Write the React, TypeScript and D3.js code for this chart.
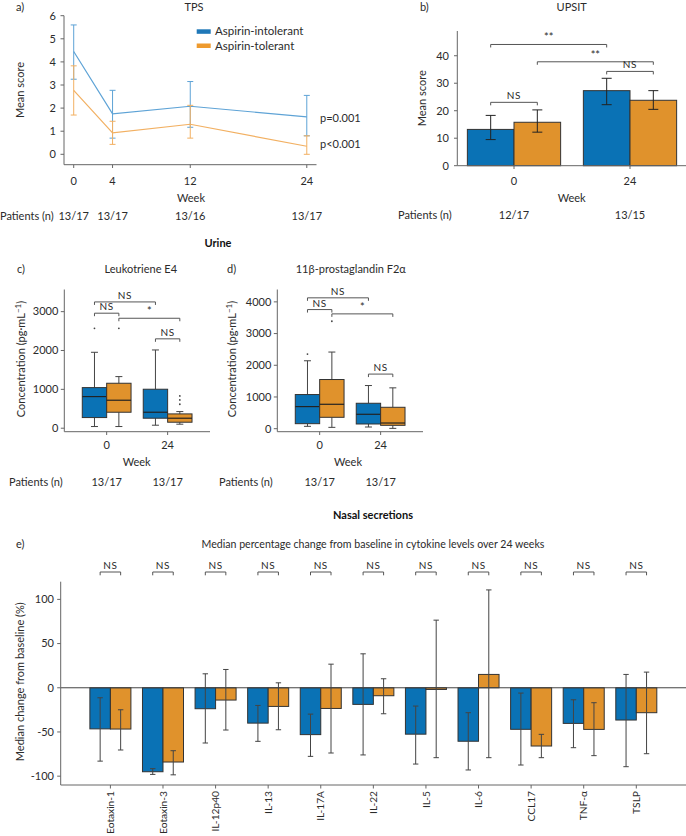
import React from "react";
import * as d3 from "d3";

// ---------- data ----------
const weeksA = [0, 4, 12, 24];
const tpsIntMean = [4.45, 1.75, 2.08, 1.62];
const tpsIntLo = [3.25, 0.7, 1.17, 0.8];
const tpsIntHi = [5.6, 2.77, 3.15, 2.55];
const tpsTolMean = [2.77, 0.93, 1.3, 0.35];
const tpsTolLo = [1.7, 0.43, 0.7, 0.0];
const tpsTolHi = [3.83, 1.43, 2.12, 0.8];
const patientsA = ["13/17", "13/17", "13/16", "13/17"];
const tpsTicks = [0, 1, 2, 3, 4, 5, 6];

const weeksB = ["0", "24"];
const upsitIntMean = [13.2, 27.3];
const upsitIntLo = [9.5, 22.2];
const upsitIntHi = [18.3, 31.8];
const upsitTolMean = [15.8, 23.8];
const upsitTolLo = [12.2, 20.5];
const upsitTolHi = [20.3, 27.3];
const patientsB = ["12/17", "13/15"];
const upsitTicks = [0, 10, 20, 30, 40];

// box stats: [low whisker, Q1, median, Q3, high whisker]
const lte4Int = [[43, 274, 814, 1045, 1954], [77, 257, 411, 1003, 2014]];
const lte4Tol = [[43, 411, 720, 1157, 1328], [103, 154, 257, 368, 428]];
const lte4IntOut = [[2570], []];
const lte4TolOut = [[2570], [831, 728, 617]];
const lte4Ticks = [0, 1000, 2000, 3000];

const pgfInt = [[74, 158, 697, 1077, 2142], [53, 148, 454, 802, 1361]];
const pgfTol = [[42, 359, 770, 1551, 2417], [10, 106, 179, 675, 1288]];
const pgfIntOut = [[2353], []];
const pgfTolOut = [[3388], []];
const pgfTicks = [0, 1000, 2000, 3000, 4000];
const patientsCD = ["13/17", "13/17"];

const cytokines = ["Eotaxin-1", "Eotaxin-3", "IL-12p40", "IL-13", "IL-17A", "IL-22", "IL-5", "IL-6", "CCL17", "TNF-α", "TSLP"];
const cytIntMed = [-46.5, -95, -23.7, -40, -53, -18.8, -52.5, -60.5, -47, -40.3, -36.5];
const cytIntLo = [-83, -98, -62.5, -60.6, -77.6, -76, -86.3, -93, -87.4, -67.8, -89.3];
const cytIntHi = [-11.3, -91.5, 15.8, -20, -29.8, 38.4, -20.7, -28.2, -6, -13.6, 15.1];
const cytTolMed = [-46.7, -84, -13.9, -21.1, -23.4, -9, -1.9, 15.1, -65.9, -47.1, -28.2];
const cytTolLo = [-70.4, -98.5, -47.8, -47.5, -73.8, -29.4, -79.1, -79.1, -79.1, -76.8, -74.6];
const cytTolHi = [-24.9, -71.2, 20.7, 5.6, 26.7, 10.2, 76.5, 110.7, -52.7, -16.9, 17.7];
const cytTicks = [-100, -50, 0, 50, 100];

// ---------- style ----------
const FONT = "Lato, 'Source Sans Pro', sans-serif";
const TXT = "#2b2b2b";
const AX = "#666";
const BLUE = "#0a72b5";
const ORANGE = "#e0922c";
const BLUE_L = "#5ea3d6";
const ORANGE_L = "#f2b062";
const FS = 11;

const Bracket = ({ x1, x2, y, label }: any) => {
  const leg = 3;
  const d = `M${x1},${y + leg}V${y}H${x2}V${y + leg}`;
  return (
    <g>
      <path d={d} fill="none" stroke="#555" strokeWidth={1} />
      <text x={(x1 + x2) / 2} y={y - 3} textAnchor="middle" fontSize={label === "NS" ? 10 : 11} fill={TXT} letterSpacing={label === "NS" ? 0.6 : 0}>
        {label}
      </text>
    </g>
  );
};

function PanelA() {
  const x = d3.scaleLinear().domain([-1, 25]).range([64, 316.5]);
  const y = d3.scaleLinear().domain([-0.45, 6]).range([164.7, 15.7]);
  const line = d3.line<number>().x((_, i) => x(weeksA[i])).y((v) => y(v));
  const series = [
    { mean: tpsIntMean, lo: tpsIntLo, hi: tpsIntHi, c: BLUE_L },
    { mean: tpsTolMean, lo: tpsTolLo, hi: tpsTolHi, c: ORANGE_L },
  ];
  return (
    <g>
      <text x={16} y={11} fontSize={FS} fill={TXT}>a)</text>
      <text x={194} y={11} fontSize={FS} fill={TXT} textAnchor="middle">TPS</text>
      <line x1={64} x2={64} y1={y(6)} y2={164.7} stroke={AX} />
      <line x1={64} x2={316.5} y1={164.7} y2={164.7} stroke={AX} />
      {tpsTicks.map((t) => (
        <g key={t}>
          <line x1={60.5} x2={64} y1={y(t)} y2={y(t)} stroke={AX} />
          <text x={56} y={y(t)} dy="0.35em" fontSize={FS} fill={TXT} textAnchor="end">{t}</text>
        </g>
      ))}
      {weeksA.map((w) => (
        <g key={w}>
          <line x1={x(w)} x2={x(w)} y1={164.7} y2={168} stroke={AX} />
          <text x={x(w)} y={181.5} dy="0.35em" fontSize={FS} fill={TXT} textAnchor="middle">{w}</text>
        </g>
      ))}
      <text transform="translate(20,90) rotate(-90)" fontSize={FS} fill={TXT} textAnchor="middle" dy="0.35em">Mean score</text>
      <text x={191} y={198} dy="0.35em" fontSize={FS} fill={TXT} textAnchor="middle">Week</text>
      <text x={0} y={215.7} dy="0.35em" fontSize={FS} fill={TXT}>Patients (n)</text>
      {patientsA.map((p, i) => (
        <text key={i} x={x(weeksA[i])} y={215.7} dy="0.35em" fontSize={FS} fill={TXT} textAnchor="middle">{p}</text>
      ))}
      {series.map((s, k) => (
        <g key={k}>
          {weeksA.map((w, i) => (
            <g key={i} stroke={s.c} strokeWidth={1}>
              <line x1={x(w)} x2={x(w)} y1={y(s.lo[i])} y2={y(s.hi[i])} />
              <line x1={x(w) - 3} x2={x(w) + 3} y1={y(s.lo[i])} y2={y(s.lo[i])} />
              <line x1={x(w) - 3} x2={x(w) + 3} y1={y(s.hi[i])} y2={y(s.hi[i])} />
            </g>
          ))}
          <path d={line(s.mean) || ""} fill="none" stroke={s.c} strokeWidth={1.2} />
        </g>
      ))}
      <rect x={196.7} y={29.3} width={14} height={4.5} fill="#1f78b8" />
      <text x={215} y={31.3} dy="0.35em" fontSize={11.5} fill={TXT}>Aspirin-intolerant</text>
      <rect x={196.7} y={43.5} width={14} height={4.5} fill="#ee9a2e" />
      <text x={215} y={45.7} dy="0.35em" fontSize={11.5} fill={TXT}>Aspirin-tolerant</text>
      <text x={320} y={118.3} dy="0.35em" fontSize={FS} fill={TXT}>p=0.001</text>
      <text x={320} y={144} dy="0.35em" fontSize={FS} fill={TXT}>p&lt;0.001</text>
    </g>
  );
}

function PanelB() {
  const x = d3.scaleBand().domain(weeksB).range([456, 688]).paddingInner(0).paddingOuter(0);
  const y = d3.scaleLinear().domain([0, 49]).range([165.7, 31]);
  const bw = x.step() * 0.402;
  const cx = (w: string) => (x(w) as number) + x.bandwidth() / 2;
  const series = [
    { mean: upsitIntMean, lo: upsitIntLo, hi: upsitIntHi, c: BLUE, off: -1 },
    { mean: upsitTolMean, lo: upsitTolLo, hi: upsitTolHi, c: ORANGE, off: 0 },
  ];
  const b0 = (i: number) => cx(weeksB[i]) - bw / 2;
  const b1 = (i: number) => cx(weeksB[i]) + bw / 2;
  return (
    <g>
      <text x={420} y={11} fontSize={FS} fill={TXT}>b)</text>
      <text x={571.7} y={11} fontSize={FS} fill={TXT} textAnchor="middle">UPSIT</text>
      {series.map((s, k) =>
        weeksB.map((w, i) => {
          const x0 = cx(w) + s.off * bw;
          const mid = x0 + bw / 2;
          return (
            <g key={k + "-" + i}>
              <rect x={x0} y={y(s.mean[i])} width={bw} height={y(0) - y(s.mean[i])} fill={s.c} stroke="#333" strokeWidth={1} />
              <g stroke="#222" strokeWidth={1}>
                <line x1={mid} x2={mid} y1={y(s.lo[i])} y2={y(s.hi[i])} />
                <line x1={mid - 5} x2={mid + 5} y1={y(s.lo[i])} y2={y(s.lo[i])} />
                <line x1={mid - 5} x2={mid + 5} y1={y(s.hi[i])} y2={y(s.hi[i])} />
              </g>
            </g>
          );
        })
      )}
      <line x1={457.3} x2={457.3} y1={31} y2={165.7} stroke={AX} />
      <line x1={457.3} x2={686} y1={165.7} y2={165.7} stroke={AX} />
      {upsitTicks.map((t) => (
        <g key={t}>
          <line x1={454} x2={457.3} y1={y(t)} y2={y(t)} stroke={AX} />
          <text x={449} y={y(t)} dy="0.35em" fontSize={FS} fill={TXT} textAnchor="end">{t}</text>
        </g>
      ))}
      {weeksB.map((w) => (
        <g key={w}>
          <line x1={cx(w)} x2={cx(w)} y1={165.7} y2={169} stroke={AX} />
          <text x={cx(w)} y={180.7} dy="0.35em" fontSize={FS} fill={TXT} textAnchor="middle">{w}</text>
        </g>
      ))}
      <text transform="translate(421.7,98.3) rotate(-90)" fontSize={FS} fill={TXT} textAnchor="middle" dy="0.35em">Mean score</text>
      <text x={571.7} y={198} dy="0.35em" fontSize={FS} fill={TXT} textAnchor="middle">Week</text>
      <text x={398} y={215} dy="0.35em" fontSize={FS} fill={TXT}>Patients (n)</text>
      {patientsB.map((p, i) => (
        <text key={i} x={cx(weeksB[i])} y={215} dy="0.35em" fontSize={FS} fill={TXT} textAnchor="middle">{p}</text>
      ))}
      <Bracket x1={b0(0)} x2={b1(0)} y={y(23.05)} label="NS" />
      <Bracket x1={b0(0)} x2={b0(1)} y={y(44.1)} label="**" />
      <Bracket x1={b1(0)} x2={b1(1)} y={y(37.8)} label="**" />
      <Bracket x1={b0(1)} x2={b1(1)} y={y(34.3)} label="NS" />
    </g>
  );
}

function BoxPanel({ letter, title, lx, titleX, ax0, ax1, yDomain, ticks, intS, tolS, intOut, tolOut, brackets, ylabX, weekX, patLabX }: any) {
  const x = d3.scaleBand().domain(weeksB).range([ax0, ax1]).paddingInner(0).paddingOuter(0.195);
  const y = d3.scaleLinear().domain(yDomain).range([431.7, 289.5]);
  const bw = x.step() * 0.4;
  const cx = (w: string) => (x(w) as number) + x.bandwidth() / 2;
  const series = [
    { s: intS, o: intOut, c: BLUE, off: -1 },
    { s: tolS, o: tolOut, c: ORANGE, off: 0 },
  ];
  const c0 = (i: number) => cx(weeksB[i]) - bw / 2;
  const c1 = (i: number) => cx(weeksB[i]) + bw / 2;
  const pos: any = { i0: c0(0), t0: c1(0), i1: c0(1), t1: c1(1) };
  return (
    <g>
      <text x={lx} y={269.3} dy="0.35em" fontSize={FS} fill={TXT}>{letter}</text>
      <text x={titleX} y={269.3} dy="0.35em" fontSize={FS} fill={TXT} textAnchor="middle">{title}</text>
      {series.map((sr, k) =>
        weeksB.map((w, i) => {
          const [lo, q1, md, q3, hi] = sr.s[i];
          const x0 = cx(w) + sr.off * bw;
          const mid = x0 + bw / 2;
          return (
            <g key={k + "-" + i}>
              <g stroke="#444" strokeWidth={1}>
                <line x1={mid} x2={mid} y1={y(hi)} y2={y(q3)} />
                <line x1={mid} x2={mid} y1={y(q1)} y2={y(lo)} />
                <line x1={mid - 3.5} x2={mid + 3.5} y1={y(hi)} y2={y(hi)} />
                <line x1={mid - 3.5} x2={mid + 3.5} y1={y(lo)} y2={y(lo)} />
              </g>
              <rect x={x0} y={y(q3)} width={bw} height={y(q1) - y(q3)} fill={sr.c} stroke="#333" strokeWidth={1} />
              <line x1={x0} x2={x0 + bw} y1={y(md)} y2={y(md)} stroke="#222" strokeWidth={1.2} />
              {sr.o[i].map((v: number, j: number) => (
                <circle key={j} cx={mid} cy={y(v)} r={0.9} fill="#444" />
              ))}
            </g>
          );
        })
      )}
      <line x1={ax0} x2={ax0} y1={289.5} y2={431.7} stroke={AX} />
      <line x1={ax0} x2={ax1} y1={431.7} y2={431.7} stroke={AX} />
      {ticks.map((t: number) => (
        <g key={t}>
          <line x1={ax0 - 3.5} x2={ax0} y1={y(t)} y2={y(t)} stroke={AX} />
          <text x={ax0 - 6} y={y(t)} dy="0.35em" fontSize={FS} fill={TXT} textAnchor="end">{t}</text>
        </g>
      ))}
      {weeksB.map((w) => (
        <g key={w}>
          <line x1={cx(w)} x2={cx(w)} y1={431.7} y2={435} stroke={AX} />
          <text x={cx(w)} y={445} dy="0.35em" fontSize={FS} fill={TXT} textAnchor="middle">{w}</text>
        </g>
      ))}
      <text transform={`translate(${ylabX},359) rotate(-90)`} fontSize={FS} fill={TXT} textAnchor="middle" dy="0.35em">
        Concentration (pg·mL<tspan dy="-4" fontSize={8}>−1</tspan><tspan dy="4">)</tspan>
      </text>
      <text x={weekX} y={461.7} dy="0.35em" fontSize={FS} fill={TXT} textAnchor="middle">Week</text>
      <text x={patLabX} y={481.7} dy="0.35em" fontSize={FS} fill={TXT}>Patients (n)</text>
      {patientsCD.map((p, i) => (
        <text key={i} x={cx(weeksB[i])} y={481.7} dy="0.35em" fontSize={FS} fill={TXT} textAnchor="middle">{p}</text>
      ))}
      {brackets.map((b: any, i: number) => (
        <Bracket key={i} x1={pos[b[0]]} x2={pos[b[1]]} y={y(b[2])} label={b[3]} />
      ))}
    </g>
  );
}

function PanelE() {
  const x = d3.scaleBand().domain(cytokines).range([60.7, 686]).paddingInner(0).paddingOuter(0.445);
  const y = d3.scaleLinear().domain([-110, 120]).range([785, 581.7]);
  const bw = x.step() * 0.39;
  const cx = (c: string) => (x(c) as number) + x.bandwidth() / 2;
  const series = [
    { m: cytIntMed, lo: cytIntLo, hi: cytIntHi, c: BLUE, off: -1 },
    { m: cytTolMed, lo: cytTolLo, hi: cytTolHi, c: ORANGE, off: 0 },
  ];
  return (
    <g>
      <text x={373} y={515} dy="0.35em" fontSize={FS} fill="#111" fontWeight="bold" textAnchor="middle">Nasal secretions</text>
      <text x={16} y={544.3} dy="0.35em" fontSize={FS} fill={TXT}>e)</text>
      <text x={373} y={544.3} dy="0.35em" fontSize={10.6} fill={TXT} textAnchor="middle">Median percentage change from baseline in cytokine levels over 24 weeks</text>
      {series.map((s, k) =>
        cytokines.map((c, i) => {
          const x0 = cx(c) + s.off * bw;
          const top = Math.min(y(s.m[i]), y(0));
          return (
            <rect key={k + "-" + i} x={x0} y={top} width={bw} height={Math.abs(y(s.m[i]) - y(0))} fill={s.c} stroke="#333" strokeWidth={1} />
          );
        })
      )}
      <line x1={60.7} x2={686} y1={y(0)} y2={y(0)} stroke="#444" strokeWidth={1} />
      {series.map((s, k) =>
        cytokines.map((c, i) => {
          const mid = cx(c) + s.off * bw + bw / 2;
          return (
            <g key={"e" + k + "-" + i} stroke="#444" strokeWidth={1}>
              <line x1={mid} x2={mid} y1={y(s.lo[i])} y2={y(s.hi[i])} />
              <line x1={mid - 2.7} x2={mid + 2.7} y1={y(s.lo[i])} y2={y(s.lo[i])} />
              <line x1={mid - 2.7} x2={mid + 2.7} y1={y(s.hi[i])} y2={y(s.hi[i])} />
            </g>
          );
        })
      )}
      <line x1={60.7} x2={60.7} y1={581.7} y2={785} stroke={AX} />
      <line x1={60.7} x2={686} y1={785} y2={785} stroke={AX} />
      {cytTicks.map((t) => (
        <g key={t}>
          <line x1={57.2} x2={60.7} y1={y(t)} y2={y(t)} stroke={AX} />
          <text x={54} y={y(t)} dy="0.35em" fontSize={FS} fill={TXT} textAnchor="end">{t}</text>
        </g>
      ))}
      {cytokines.map((c) => {
        const m = cx(c);
        return (
          <g key={c}>
            <line x1={m} x2={m} y1={785} y2={788.5} stroke={AX} />
            <text transform={`translate(${m},791) rotate(-90)`} dy="0.35em" fontSize={10.2} fill={TXT} textAnchor="end">{c}</text>
            <path d={`M${m - bw / 2},575.3V572H${m + bw / 2}V575.3`} fill="none" stroke="#555" />
            <text x={m} y={565} dy="0.35em" fontSize={10} fill={TXT} textAnchor="middle" letterSpacing={0.6}>NS</text>
          </g>
        );
      })}
      <text transform="translate(20,681.7) rotate(-90)" fontSize={FS} fill={TXT} textAnchor="middle" dy="0.35em">Median change from baseline (%)</text>
    </g>
  );
}

export default function App() {
  return (
    <svg width={686} height={836} style={{ position: "absolute", left: 0, top: 0, background: "#fff" }} fontFamily={FONT}>
      <rect width={686} height={836} fill="#fff" />
      <PanelA />
      <PanelB />
      <text x={218} y={242.7} dy="0.35em" fontSize={FS} fill="#111" fontWeight="bold" textAnchor="middle">Urine</text>
      <BoxPanel
        letter="c)" title="Leukotriene E4" lx={17} titleX={140.8} ax0={64.3} ax1={210}
        yDomain={[-90, 3570]} ticks={lte4Ticks} intS={lte4Int} tolS={lte4Tol} intOut={lte4IntOut} tolOut={lte4TolOut}
        brackets={[["i0", "i1", 3250, "NS"], ["i0", "t0", 2960, "NS"], ["t0", "t1", 2830, "*"], ["i1", "t1", 2300, "NS"]]}
        ylabX={20.7} weekX={136.7} patLabX={9}
      />
      <BoxPanel
        letter="d)" title="11β-prostaglandin F2α" lx={227} titleX={350.8} ax0={277.3} ax1={423}
        yDomain={[-95, 4390]} ticks={pgfTicks} intS={pgfInt} tolS={pgfTol} intOut={pgfIntOut} tolOut={pgfTolOut}
        brackets={[["i0", "i1", 4127, "NS"], ["i0", "t0", 3757, "NS"], ["t0", "t1", 3621, "*"], ["i1", "t1", 1722, "NS"]]}
        ylabX={231.7} weekX={348} patLabX={219}
      />
      <PanelE />
    </svg>
  );
}
